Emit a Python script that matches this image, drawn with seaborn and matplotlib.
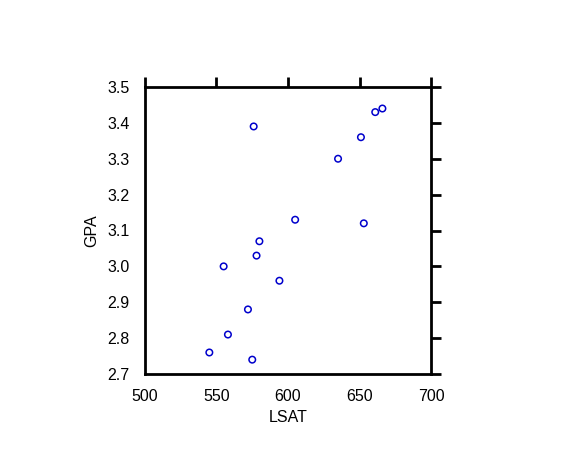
import matplotlib
matplotlib.use('Agg')
import matplotlib.pyplot as plt
import seaborn as sns
import pandas as pd

# law school data
lsat = [576, 635, 558, 578, 666, 580, 555, 661, 651, 605, 653, 575, 545, 572, 594]
gpa = [3.39, 3.30, 2.81, 3.03, 3.44, 3.07, 3.00, 3.43, 3.36, 3.13, 3.12, 2.74, 2.76, 2.88, 2.96]
x_ticks = [500, 550, 600, 650, 700]
y_ticks = [2.7, 2.8, 2.9, 3.0, 3.1, 3.2, 3.3, 3.4, 3.5]

df = pd.DataFrame({'LSAT': lsat, 'GPA': gpa})

sns.set_style('white')
plt.rcParams['font.family'] = ['Liberation Sans', 'DejaVu Sans']
plt.rcParams['text.color'] = 'black'
plt.rcParams['axes.labelcolor'] = 'black'
plt.rcParams['xtick.color'] = 'black'
plt.rcParams['ytick.color'] = 'black'

fig = plt.figure(figsize=(5.76, 4.61), dpi=100)
ax = fig.add_axes([0.2517, 0.1887, 0.4966, 0.6226])

sns.scatterplot(data=df, x='LSAT', y='GPA', ax=ax, marker='o', s=22,
                facecolor='none', edgecolor='#0000cc', linewidth=1.1)

ax.set_xlim(500, 700)
ax.set_ylim(2.7, 3.5)
ax.set_xticks(x_ticks)
ax.set_yticks(y_ticks)
ax.set_yticklabels([f'{v:.1f}' for v in y_ticks])
ax.tick_params(direction='out', length=7, width=2, colors='black',
               labelsize=11.5, top=True, right=True, pad=4)
for s in ax.spines.values():
    s.set_linewidth(2)
    s.set_color('black')
ax.set_xlabel('LSAT', fontsize=11.5, labelpad=4)
ax.set_ylabel('GPA', fontsize=11.5, labelpad=6)

fig.savefig('out.png', dpi=100, facecolor='white')
